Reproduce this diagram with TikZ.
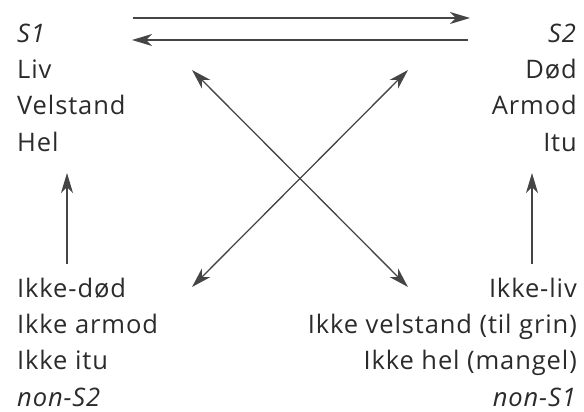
\documentclass[tikz,border=0pt]{standalone}
\usepackage{fontspec}
\setmainfont{Open Sans}[LetterSpace=3.5]
\usetikzlibrary{arrows.meta,positioning}

\definecolor{txtgray}{HTML}{2B2B2B}
\definecolor{arrgray}{HTML}{454545}

\tikzset{
  sqword/.style={inner sep=0pt, text=txtgray, font={\fontsize{25.5}{36.3}\selectfont}},
  sqarrow/.style={-{Stealth[length=20pt, width=12pt, inset=6pt]}, arrgray, line width=1.3pt},
  sqboth/.style={{Stealth[length=20pt, width=12pt, inset=6pt]}-{Stealth[length=20pt, width=12pt, inset=6pt]}, arrgray, line width=1.3pt}
}

\begin{document}
\begin{tikzpicture}[x=1pt, y=-1pt]
  % Fixed bounding box
  \path[use as bounding box] (0,0) rectangle (584,412);

  % The four corners of the square
  \node[sqword, align=left, anchor=base west] (sone) at (17,151)
    {\textit{S1}\\Liv\\Velstand\\Hel};
  \node[sqword, align=right, anchor=base east] (stwo) at (577,151)
    {\textit{S2}\\Død\\Armod\\Itu};
  \node[sqword, align=left, anchor=base west] (nonstwo) at (17,406)
    {Ikke-død\\Ikke armod\\Ikke itu\\\textit{non-S2}};
  \node[sqword, align=right, anchor=base east] (nonsone) at (577,406)
    {Ikke-liv\\Ikke velstand (til grin)\\Ikke hel (mangel)\\\textit{non-S1}};

  % Arrow ends
  \coordinate (topa) at (133,18);
  \coordinate (topb) at (470,18);
  \coordinate (lowa) at (468,40);
  \coordinate (lowb) at (132,40);
  \coordinate (lup) at (67,173);
  \coordinate (ldown) at (67,264);
  \coordinate (rup) at (532,173);
  \coordinate (rdown) at (532,264);
  \coordinate (dtl) at (192,70);
  \coordinate (dtr) at (408,70);
  \coordinate (dbl) at (192,287);
  \coordinate (dbr) at (408,287);

  % Contraries
  \draw[sqarrow] (topa) -- (topb);
  \draw[sqarrow] (lowa) -- (lowb);

  % Implications
  \draw[sqarrow] (ldown) -- (lup);
  \draw[sqarrow] (rdown) -- (rup);

  % Contradictions
  \draw[sqboth] (dbl) -- (dtr);
  \draw[sqboth] (dtl) -- (dbr);
\end{tikzpicture}
\end{document}
